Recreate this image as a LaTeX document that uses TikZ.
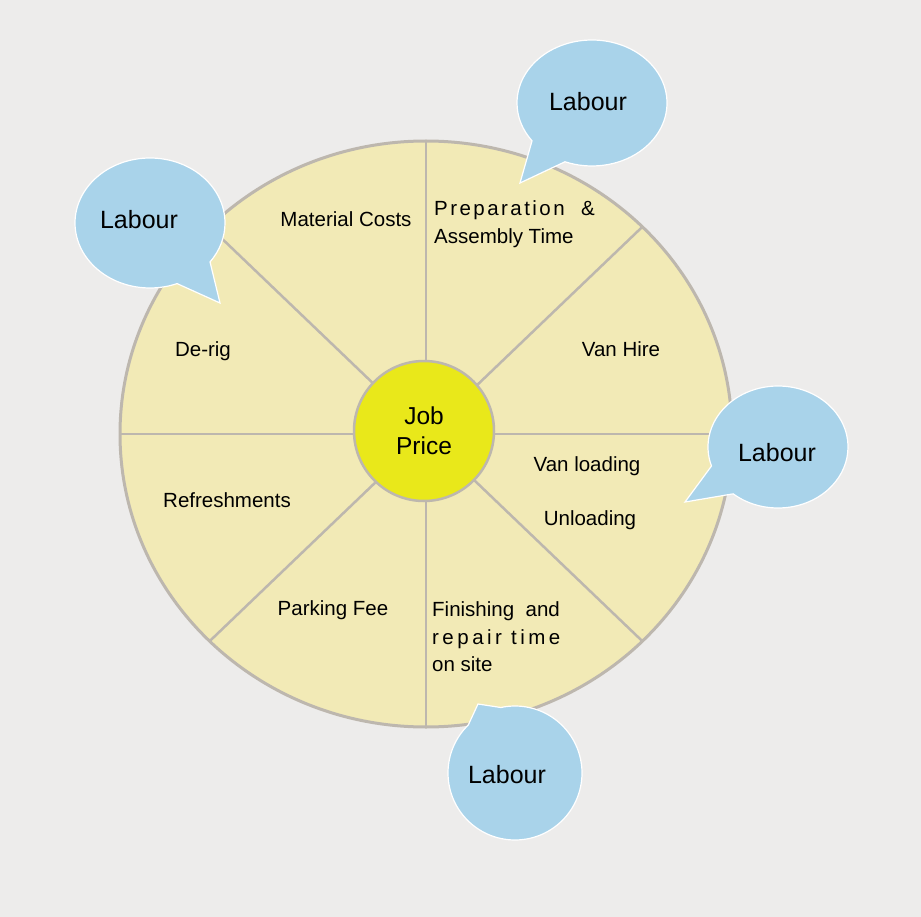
\documentclass[tikz,border=0pt]{standalone}
\usepackage{fontspec}
\setmainfont{Liberation Sans}
\newfontfamily\spacedfont[LetterSpace=12]{Liberation Sans}
\newfontfamily\widefont[LetterSpace=17]{Liberation Sans}
\usetikzlibrary{shapes.callouts}
\definecolor{bgc}{HTML}{EDECEB}
\definecolor{discc}{HTML}{F2EAB6}
\definecolor{bordc}{HTML}{BDB7AE}
\definecolor{jobc}{HTML}{E9E81A}
\definecolor{bubc}{HTML}{A9D3EA}
\tikzset{
  spoke/.style={draw=bordc, line width=2.5pt},
  lbl/.style={inner sep=0pt, font=\fontsize{20.5}{27.5}\selectfont, text=black},
  bubble/.style={ellipse callout, fill=bubc, draw=white, line width=1.2pt, inner sep=0pt, callout pointer arc=32},
  btxt/.style={inner sep=0pt, font=\fontsize{25}{29}\selectfont, text=black},
}
\begin{document}
\begin{tikzpicture}[x=1pt,y=-1pt]
\path[use as bounding box, fill=bgc] (0,0) rectangle (921,917);
\coordinate (c) at (426,434);
\fill[discc] (c) ellipse [x radius=306pt, y radius=293pt];
\foreach \a in {0,45,...,315}{
  \draw[spoke] (c) -- ++(\a:306pt and 293pt);
}
\draw[bordc, line width=3pt] (c) ellipse [x radius=306pt, y radius=293pt];
\node[circle, fill=jobc, draw=bordc, line width=2.5pt, minimum size=140pt, inner sep=0pt,
      font=\fontsize{24.5}{30}\selectfont, align=center] (job) at (424,431) {Job\\Price};

\node[lbl] (mat) at (346,219) {Material Costs};
\node[lbl, anchor=west, align=left] (prep) at (434,224) {{\spacedfont Preparation\ \ \&}\\Assembly Time};
\node[lbl] (van) at (621,349) {Van Hire};
\node[lbl] (vload) at (587,466) {Van loading};
\node[lbl] (unload) at (590,520) {Unloading};
\node[lbl, anchor=west, align=left] (fin) at (432,637) {Finishing\ \ and\\{\widefont repair\ time}\\on site};
\node[lbl] (park) at (333,610) {Parking Fee};
\node[lbl] (refr) at (227,500) {Refreshments};
\node[lbl] (derig) at (203,351) {De-rig};

\node[bubble, minimum width=150pt, minimum height=126pt, callout absolute pointer={(520,183)}] (b1) at (592,103) {};
\node[bubble, minimum width=150pt, minimum height=130pt, callout absolute pointer={(220,303)}] (b2) at (150,223) {};
\node[bubble, minimum width=140pt, minimum height=122pt, callout absolute pointer={(685,502)}] (b3) at (778,447) {};
\node[bubble, minimum width=134pt, minimum height=134pt, callout absolute pointer={(478,704)}] (b4) at (515,773) {};
\node[btxt] (t1) at (588,102) {Labour};
\node[btxt] (t2) at (139,220) {Labour};
\node[btxt] (t3) at (777,453) {Labour};
\node[btxt] (t4) at (507,775) {Labour};
\end{tikzpicture}
\end{document}
